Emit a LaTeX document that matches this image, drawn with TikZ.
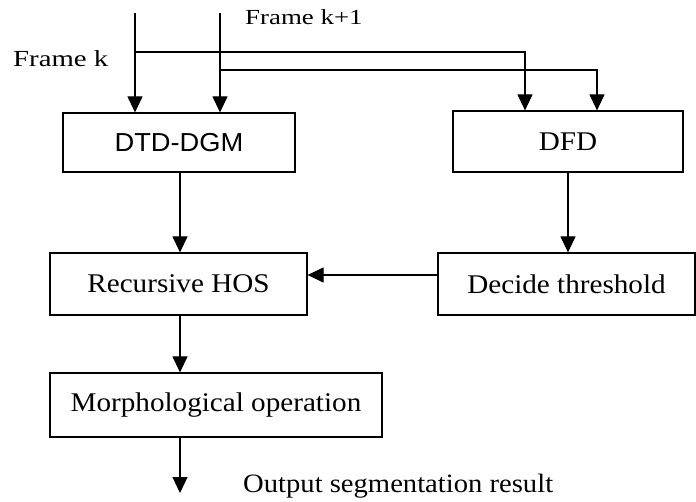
\documentclass[tikz,border=0pt]{standalone}
\usepackage{fontspec}
\setmainfont{Liberation Serif}
\newfontfamily\bodyfont{Liberation Serif}[FakeStretch=1.08]
\newfontfamily\framefont{Liberation Serif}[FakeStretch=1.25]
\newfontfamily\boxsans{Liberation Sans}[FakeStretch=1.05]
\usetikzlibrary{arrows.meta}
\begin{document}
\begin{tikzpicture}[x=1pt,y=-1pt,
  box/.style={draw,line width=1.2pt,inner sep=0pt,
    font=\bodyfont\fontsize{27}{30}\selectfont},
  conn/.style={line width=1.2pt},
  arr/.style={line width=1.2pt,-{Triangle[length=16pt,width=15pt]}},
  lbl/.style={inner sep=0pt,anchor=base west}]
\useasboundingbox (0,0) rectangle (696,502);
% boxes
\node[box,minimum width=232pt,minimum height=59pt,
  font=\boxsans\fontsize{26}{29}\selectfont] (dtd) at (179,142.5) {DTD-DGM};
\node[box,minimum width=230pt,minimum height=61pt,
  font=\bodyfont\fontsize{27}{30}\selectfont] (dfd) at (568,141.5) {DFD};
\node[box,minimum width=257pt,minimum height=62pt] (rhos) at (178.5,284) {Recursive HOS};
\node[box,minimum width=257pt,minimum height=62pt] (dt) at (566.5,284) {Decide threshold};
\node[box,minimum width=332pt,minimum height=64pt] (morph) at (216,405) {Morphological operation};
% labels
\node[lbl,font=\framefont\fontsize{23}{26}\selectfont] (lk) at (13,67) {Frame k};
\node[lbl,font=\framefont\fontsize{21.5}{24}\selectfont] (lk1) at (245,25) {Frame k+1};
\node[lbl,font=\bodyfont\fontsize{26.5}{30}\selectfont] (out) at (243,492) {Output segmentation result};
% input coordinates
\coordinate (fk) at (135,13);
\coordinate (fk1) at (220,13);
\coordinate (b1) at (135,52);
\coordinate (b2) at (220,70);
\coordinate (d1) at (525,52);
\coordinate (d2) at (597,70);
\coordinate (o) at (180,493);
% connectors
\draw[arr] (fk) -- (fk |- dtd.north);
\draw[arr] (fk1) -- (fk1 |- dtd.north);
\draw[arr] (b1) -- (d1) -- (d1 |- dfd.north);
\draw[arr] (b2) -- (d2) -- (d2 |- dfd.north);
\draw[arr] ([xshift=1pt]dtd.south) -- ([xshift=1pt]dtd.south |- rhos.north);
\draw[arr] (dfd.south) -- (dfd.south |- dt.north);
\draw[arr] ([yshift=9pt]dt.west) -- ([yshift=9pt]dt.west -| rhos.east);
\draw[arr] (rhos.south -| o) -- (o |- morph.north);
\draw[arr] (morph.south -| o) -- (o);
\end{tikzpicture}
\end{document}
